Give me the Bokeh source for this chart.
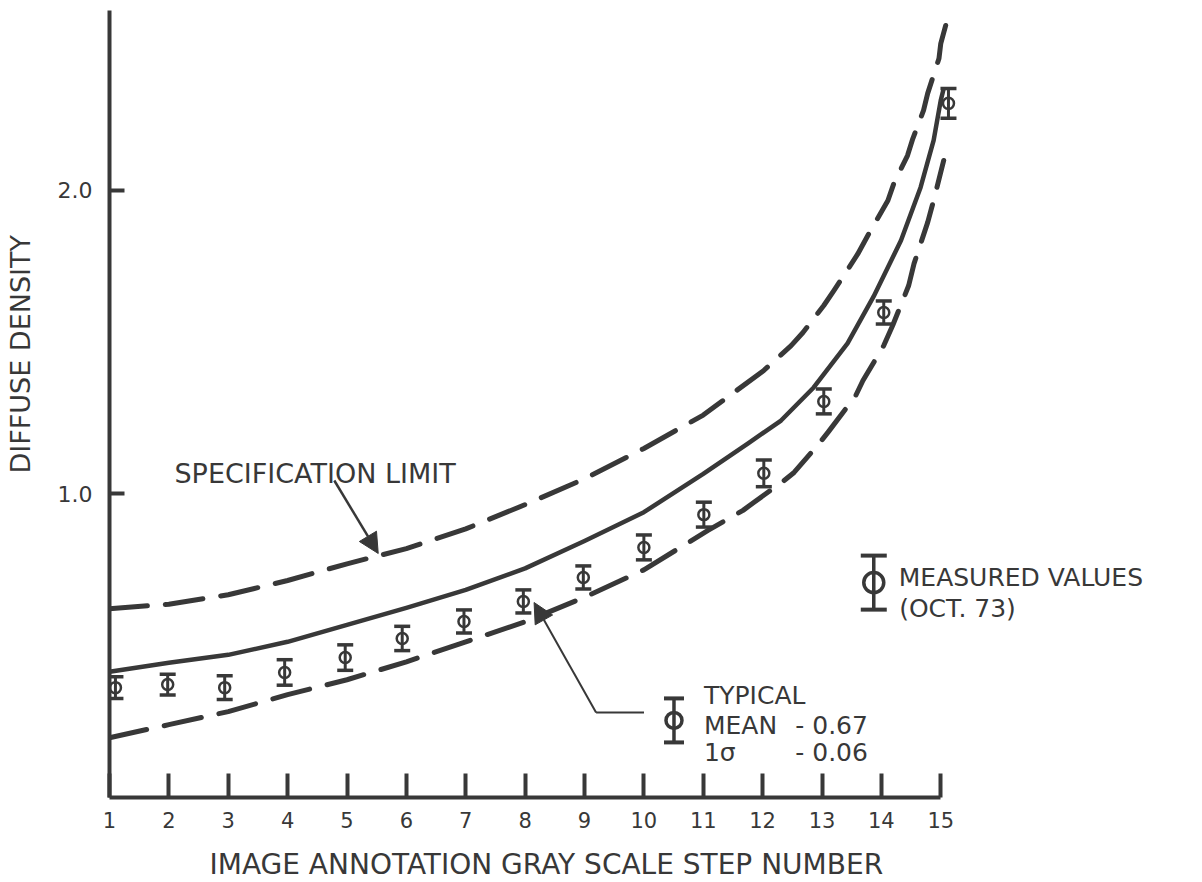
import math
from bokeh.plotting import figure
from bokeh.models import Range1d, FixedTicker, Label, Arrow, NormalHead, PrintfTickFormatter, Title
from bokeh.embed import file_html
from bokeh.resources import INLINE

INK = "#383838"
FONT = "DejaVu Sans"

# ---- data ----
step_ticks = list(range(1, 16))

nominal_x = [1, 2, 3, 4, 5, 6, 7, 8, 9, 10, 11, 11.75, 12.31, 12.86, 13.43, 13.87, 14.33, 14.66, 14.88, 15.0, 15.05]
nominal_y = [0.414, 0.444, 0.470, 0.513, 0.569, 0.625, 0.684, 0.755, 0.845, 0.94, 1.066,
             1.166, 1.242, 1.351, 1.496, 1.651, 1.835, 2.01, 2.165, 2.297, 2.336]

upper_x = [1, 2, 3, 4, 5, 6, 7, 8, 9, 10, 11, 12.02, 12.48, 12.68, 13.03, 13.2, 13.6, 13.79,
           14.11, 14.21, 14.44, 14.53, 14.71, 14.78, 14.97, 15.0, 15.12]
upper_y = [0.622, 0.637, 0.668, 0.715, 0.77, 0.82, 0.885, 0.965, 1.05, 1.15, 1.26, 1.407,
           1.489, 1.532, 1.621, 1.67, 1.79, 1.858, 1.967, 2.023, 2.115, 2.171, 2.264, 2.32,
           2.435, 2.484, 2.57]

lower_x = [1, 2, 3, 4, 5, 6, 7, 8, 9, 10, 11.08, 11.67, 11.85, 12.36, 12.53, 12.95, 13.1,
           13.57, 13.69, 14.04, 14.19, 14.46, 14.55, 14.78, 14.88, 15.05]
lower_y = [0.197, 0.24, 0.283, 0.339, 0.388, 0.447, 0.513, 0.579, 0.66, 0.75, 0.88, 0.946,
           0.972, 1.044, 1.071, 1.166, 1.203, 1.325, 1.374, 1.489, 1.555, 1.687, 1.759,
           1.895, 1.967, 2.099]

measured_x = [1.1, 1.98, 2.94, 3.95, 4.97, 5.93, 6.97, 7.97, 8.98, 10.0, 11.01, 12.02, 13.03, 14.04, 15.13]
measured_y = [0.362, 0.372, 0.362, 0.412, 0.461, 0.524, 0.580, 0.646, 0.725, 0.824,
              0.932, 1.068, 1.305, 1.598, 2.287]
measured_err = [0.036, 0.034, 0.039, 0.042, 0.042, 0.040, 0.038, 0.038, 0.038, 0.041,
                0.041, 0.044, 0.041, 0.038, 0.049]

# ---- figure ----
p = figure(width=1196, height=882, x_range=Range1d(1, 19.24), y_range=Range1d(0, 2.593),
           output_backend="svg", toolbar_location=None, title=None,
           min_border_left=108, min_border_right=4, min_border_top=10, min_border_bottom=85)
p.outline_line_color = None
p.xgrid.visible = False
p.ygrid.visible = False
p.background_fill_color = "white"
p.border_fill_color = "white"

for ax in (p.xaxis, p.yaxis):
    ax.axis_line_width = 4
    ax.axis_line_color = INK
    ax.major_tick_line_width = 4
    ax.major_tick_line_color = INK
    ax.minor_tick_line_color = None
    ax.major_tick_out = 0
    ax.major_label_text_font = FONT
    ax.major_label_text_color = INK
    # blank spacer label: only reserves room so the titles sit where the original has them
    ax.axis_label = " "
    ax.axis_label_text_font_size = "10px"
    ax.axis_label_text_font = FONT

p.xaxis.major_label_text_font_size = "21px"
p.yaxis.major_label_text_font_size = "22px"
p.xaxis.axis_label_standoff = 0
p.yaxis.axis_label_standoff = 3

p.xaxis.ticker = FixedTicker(ticks=step_ticks)
p.xaxis.bounds = (1, 15)
p.xaxis.major_tick_in = 24
p.xaxis.major_label_standoff = 14

p.yaxis.ticker = FixedTicker(ticks=[1.0, 2.0])
p.yaxis.formatter = PrintfTickFormatter(format="%.1f")
p.yaxis.major_tick_in = 15
p.yaxis.major_label_standoff = 17

# axis titles as side-panel titles
p.add_layout(Title(text="DIFFUSE DENSITY", align="left", offset=324, text_font=FONT,
                   text_font_size="27px", text_font_style="normal", text_color=INK,
                   standoff=4), "left")
p.add_layout(Title(text="IMAGE ANNOTATION GRAY SCALE STEP NUMBER", align="left", offset=100,
                   text_font=FONT, text_font_size="28px", text_font_style="normal",
                   text_color=INK, standoff=2), "below")

# ---- curves ----
p.line(upper_x, upper_y, line_color=INK, line_width=5, line_dash="38 18", line_cap="round", line_join="round")
p.line(lower_x, lower_y, line_color=INK, line_width=5, line_dash="38 18", line_cap="round", line_join="round")
p.line(nominal_x, nominal_y, line_color=INK, line_width=4.5, line_join="round")

# ---- measured values with error bars ----
lo = [y - e for y, e in zip(measured_y, measured_err)]
hi = [y + e for y, e in zip(measured_y, measured_err)]
p.scatter(measured_x, measured_y, marker="circle", size=11, fill_color="white",
          line_color=INK, line_width=2.5)
p.segment(measured_x, lo, measured_x, hi, line_color=INK, line_width=3)
p.scatter(measured_x, lo, marker="dash", size=16, line_color=INK, line_width=3.5)
p.scatter(measured_x, hi, marker="dash", size=16, line_color=INK, line_width=3.5)

# ---- legend keys (symbol) ----
def key(x, y, half, cap, circ, lw):
    p.scatter([x], [y], marker="circle", size=circ, fill_color="white", line_color=INK, line_width=lw)
    p.segment([x], [y - half], [x], [y + half], line_color=INK, line_width=lw)
    p.scatter([x, x], [y - half, y + half], marker="dash", size=cap, line_color=INK, line_width=lw + 0.5)

key(13.872, 0.708, 0.089, 26, 20, 3.5)
key(10.507, 0.254, 0.0725, 20, 16, 3.5)

# ---- texts ----
def lab(x, y, text, size, align="left", baseline="alphabetic", angle=0.0):
    p.add_layout(Label(x=x, y=y, text=text, text_font=FONT, text_font_size=size,
                       text_color=INK, text_align=align, text_baseline=baseline, angle=angle))

lab(2.094, 1.0675, "SPECIFICATION LIMIT", "27px")
lab(14.293, 0.725, "MEASURED VALUES", "25px")
lab(14.30, 0.623, "(OCT. 73)", "25px")
lab(11.012, 0.336, "TYPICAL", "25px")
lab(11.012, 0.237, "MEAN", "25px")
lab(12.55, 0.237, "- 0.67", "25px")
lab(11.012, 0.148, "1σ", "25px")
lab(12.55, 0.148, "- 0.06", "25px")

# ---- arrows ----
p.add_layout(Arrow(end=NormalHead(size=20, fill_color=INK, line_color=INK),
                   x_start=4.786, y_start=1.0445, x_end=5.526, y_end=0.804,
                   line_color=INK, line_width=2.5))
p.add_layout(Arrow(end=None, x_start=10.002, y_start=0.280, x_end=9.195, y_end=0.280,
                   line_color=INK, line_width=2))
p.add_layout(Arrow(end=NormalHead(size=20, fill_color=INK, line_color=INK),
                   x_start=9.195, y_start=0.280, x_end=8.151, y_end=0.6425,
                   line_color=INK, line_width=2))

open("out.html", "w").write(file_html(p, INLINE))
